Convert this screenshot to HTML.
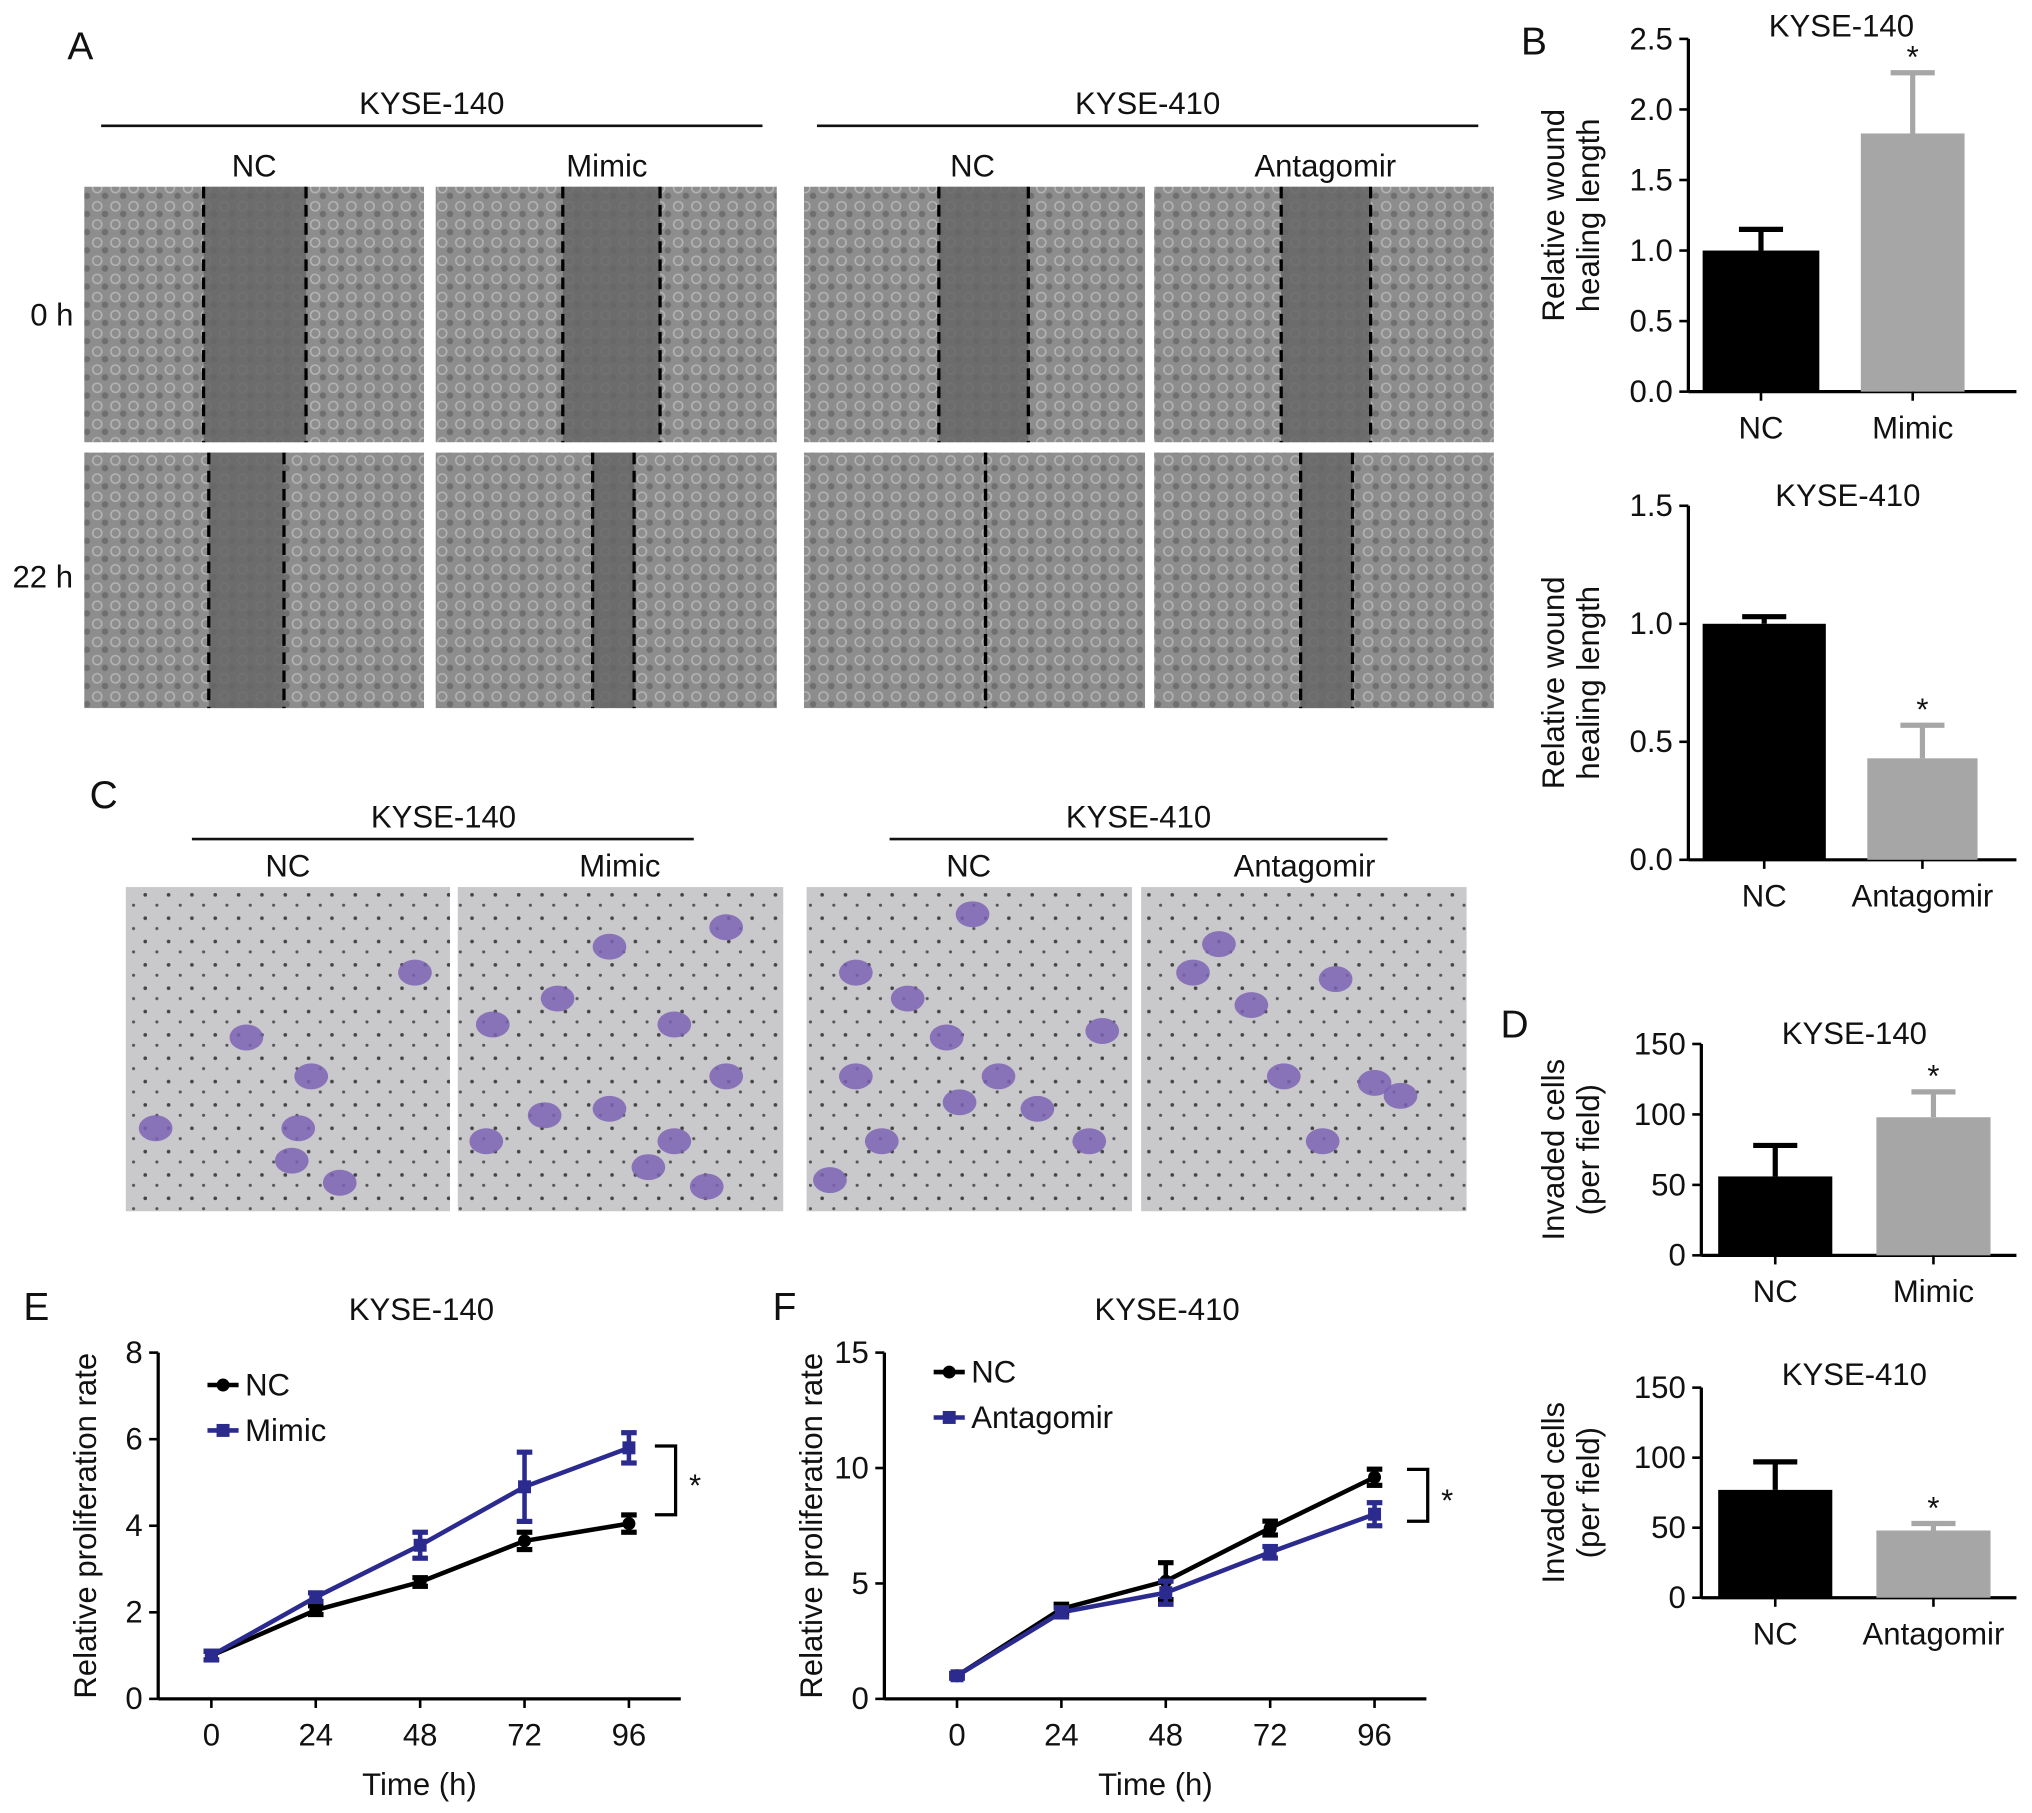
<!DOCTYPE html>
<html><head><meta charset="utf-8"><style>
html,body{margin:0;padding:0;background:#fff}
svg{display:block}
text{font-family:"Liberation Sans",Arial,sans-serif;fill:#111}
</style></head><body>
<svg id="fig" width="2032" height="1813" viewBox="0 0 1567 1398" preserveAspectRatio="none" xmlns="http://www.w3.org/2000/svg">
<defs>
<pattern id="cells" width="14" height="14" patternUnits="userSpaceOnUse">
<rect width="14" height="14" fill="#8d8d8d"/><circle cx="5" cy="5" r="3.5" fill="none" stroke="#b4b4b4" stroke-width="1.2"/><circle cx="11" cy="11" r="2.5" fill="#6f6f6f"/>
</pattern>
<pattern id="memb" width="18" height="18" patternUnits="userSpaceOnUse">
<rect width="18" height="18" fill="#c9c9cc"/><circle cx="4" cy="6" r="1.4" fill="#444"/><circle cx="13" cy="14" r="1.2" fill="#555"/>
</pattern>
</defs>
<g id="panelA"></g>
<g id="panelC"></g>
<g id="charts"></g>
</svg>
<script>
// ---- data ----
const bCats1=["NC","Mimic"]; const bVals1=[1.0,1.83]; const bErr1=[0.15,0.43];
const bCats2=["NC","Antagomir"]; const bVals2=[1.0,0.43]; const bErr2=[0.03,0.14];
const dCats1=["NC","Mimic"]; const dVals1=[56,98]; const dErr1=[22,18];
const dCats2=["NC","Antagomir"]; const dVals2=[77,48]; const dErr2=[20,5];
const timePoints=[0,24,48,72,96];
const eNC=[1,2.05,2.7,3.65,4.05]; const eNCerr=[0.1,0.1,0.1,0.2,0.2];
const eMimic=[1,2.35,3.55,4.9,5.8]; const eMimicErr=[0.1,0.1,0.3,0.8,0.35];
const fNC=[1,3.9,5.1,7.4,9.6]; const fNCerr=[0.1,0.2,0.8,0.3,0.35];
const fAnta=[1,3.75,4.6,6.35,8.0]; const fAntaErr=[0.1,0.2,0.5,0.25,0.5];
const bTicks=[0,0.5,1.0,1.5,2.0,2.5]; const b2Ticks=[0,0.5,1.0,1.5];
const dTicks=[0,50,100,150]; const eTicks=[0,2,4,6,8]; const fTicks=[0,5,10,15];

const FS=24;
const NS="http://www.w3.org/2000/svg";
function el(parent,tag,attrs,txt){const e=document.createElementNS(NS,tag);for(const k in attrs)e.setAttribute(k,attrs[k]);if(txt!==undefined)e.textContent=txt;parent.appendChild(e);return e;}
function txt(p,x,y,s,size,anchor,name){const t=el(p,"text",{x:x,y:y,"font-size":size||FS,"text-anchor":anchor||"middle"},s);


return t;}
const A=document.getElementById("panelA"),C=document.getElementById("panelC"),G=document.getElementById("charts");

// ---- Panel A ----
txt(A,62,46,"A",30,"middle","panel-letter-a");
[[333,78,588,"KYSE-140"],[885,630,1140,"KYSE-410"]].forEach(g=>{txt(A,g[0],88,g[3],FS,"middle","group-title");el(A,"line",{x1:g[1],x2:g[2],y1:97,y2:97,stroke:"#111","stroke-width":2});});
[[196,"NC"],[468,"Mimic"],[750,"NC"],[1022,"Antagomir"]].forEach(c=>txt(A,c[0],136,c[1],FS,"middle","column-label"));
txt(A,40,251,"0 h",FS,"middle","row-label-0h");txt(A,33,453,"22 h",FS,"middle","row-label-22h");
const colsA=[[65,327],[336,599],[620,883],[890,1152]];
const dashes=[[[157,236],[434,509],[724,793],[988,1057]],[[161,219],[457,489],[760,760],[1003,1043]]];
[[144,341],[349,546]].forEach((r,ri)=>colsA.forEach((c,ci)=>{
 el(A,"rect",{x:c[0],y:r[0],width:c[1]-c[0],height:r[1]-r[0],fill:"url(#cells)"});
 const d=dashes[ri][ci];
 el(A,"rect",{x:d[0],y:r[0],width:Math.max(d[1]-d[0],1),height:r[1]-r[0],fill:"#666",opacity:0.85});
 d.forEach(x=>el(A,"line",{x1:x,x2:x,y1:r[0],y2:r[1],stroke:"#000","stroke-width":2.5,"stroke-dasharray":"9,5"}));
}));

// ---- Panel C ----
txt(C,80,623,"C",30,"middle","panel-letter-c");
[[342,148,535,"KYSE-140"],[878,686,1070,"KYSE-410"]].forEach(g=>{txt(C,g[0],638,g[3],FS,"middle","group-title");el(C,"line",{x1:g[1],x2:g[2],y1:647,y2:647,stroke:"#111","stroke-width":2});});
[[222,"NC"],[478,"Mimic"],[747,"NC"],[1006,"Antagomir"]].forEach(c=>txt(C,c[0],676,c[1],FS,"middle","column-label"));
const colsC=[[97,347],[353,604],[622,873],[880,1131]];
const blobs=[[[320,750],[190,800],[240,830],[230,870],[262,912],[120,870],[225,895]],
[[560,715],[470,730],[430,770],[520,790],[380,790],[420,860],[470,855],[520,880],[560,830],[500,900],[545,915],[375,880]],
[[750,705],[660,750],[700,770],[730,800],[770,830],[660,830],[740,850],[840,880],[680,880],[640,910],[800,855],[850,795]],
[[940,728],[920,750],[965,775],[1030,755],[1060,835],[990,830],[1020,880],[1080,845]]];
colsC.forEach((c,i)=>{el(C,"rect",{x:c[0],y:684,width:c[1]-c[0],height:250,fill:"url(#memb)"});
 blobs[i].forEach(b=>el(C,"ellipse",{cx:b[0],cy:b[1],rx:13,ry:10,fill:"#7d63b4",opacity:0.85}));});

// ---- bar charts ----
function barChart(o){
 const y=v=>o.y0-(v-o.min)/(o.max-o.min)*(o.y0-o.yTop);
 const g=el(G,"g",{});
 
 
 txt(g,o.titleX,o.titleY,o.title,FS,"middle","chart-title");
 el(g,"line",{x1:o.ax,x2:o.ax,y1:o.yTop,y2:o.y0,stroke:"#000","stroke-width":2.5});
 el(g,"line",{x1:o.ax,x2:o.xEnd,y1:o.y0,y2:o.y0,stroke:"#000","stroke-width":2.5});
 o.ticks.forEach(t=>{el(g,"line",{x1:o.ax-7,x2:o.ax,y1:y(t),y2:y(t),stroke:"#000","stroke-width":2});txt(g,o.ax-12,y(t)+8,o.fmt(t),FS,"end","y-tick-label");});
 const yl=el(g,"text",{transform:`translate(${o.ylx},${(o.yTop+o.y0)/2}) rotate(-90)`,"font-size":FS,"text-anchor":"middle"});
 
 
 o.ylab.forEach((s,i)=>el(yl,"tspan",{x:0,dy:i?27:0},s));
 o.cats.forEach((c,i)=>{const bx=o.bars[i];const yt=y(o.vals[i]),ye=y(o.vals[i]+o.errs[i]);const cx=(bx[0]+bx[1])/2;
  el(g,"line",{x1:cx,x2:cx,y1:ye,y2:yt,stroke:i?"#a6a6a6":"#000","stroke-width":4});
  el(g,"line",{x1:cx-17,x2:cx+17,y1:ye,y2:ye,stroke:i?"#a6a6a6":"#000","stroke-width":4});
  const r=el(g,"rect",{x:bx[0],y:yt,width:bx[1]-bx[0],height:o.y0-yt,fill:i?"#a6a6a6":"#000"});
  
  
  el(g,"line",{x1:cx,x2:cx,y1:o.y0,y2:o.y0+7,stroke:"#000","stroke-width":2});
  txt(g,cx,o.y0+36,c,FS,"middle","x-tick-label");
  if(i) txt(g,cx,ye-4,"*",FS,"middle","significance-star");});
}
txt(G,1183,42,"B",30,"middle","panel-letter-b");
barChart({name:"chart-b-kyse140",title:"KYSE-140",titleX:1420,titleY:28,ax:1302,xEnd:1555,y0:302,yTop:30,min:0,max:2.5,ticks:bTicks,fmt:t=>t.toFixed(1),cats:bCats1,vals:bVals1,errs:bErr1,bars:[[1313,1403],[1435,1515]],ylx:1206,ylab:["Relative wound","healing length"]});
barChart({name:"chart-b-kyse410",title:"KYSE-410",titleX:1425,titleY:390,ax:1302,xEnd:1555,y0:663,yTop:390,min:0,max:1.5,ticks:b2Ticks,fmt:t=>t.toFixed(1),cats:bCats2,vals:bVals2,errs:bErr2,bars:[[1313,1408],[1440,1525]],ylx:1206,ylab:["Relative wound","healing length"]});
txt(G,1168,800,"D",30,"middle","panel-letter-d");
barChart({name:"chart-d-kyse140",title:"KYSE-140",titleX:1430,titleY:805,ax:1312,xEnd:1555,y0:968,yTop:805,min:0,max:150,ticks:dTicks,fmt:t=>String(t),cats:dCats1,vals:dVals1,errs:dErr1,bars:[[1325,1413],[1447,1535]],ylx:1206,ylab:["Invaded cells","(per field)"]});
barChart({name:"chart-d-kyse410",title:"KYSE-410",titleX:1430,titleY:1068,ax:1312,xEnd:1555,y0:1232,yTop:1070,min:0,max:150,ticks:dTicks,fmt:t=>String(t),cats:dCats2,vals:dVals2,errs:dErr2,bars:[[1325,1413],[1447,1535]],ylx:1206,ylab:["Invaded cells","(per field)"]});

// ---- line charts ----
function lineChart(o){
 const y=v=>o.y0-v/o.max*(o.y0-o.yTop);
 const x=t=>o.x0+t/96*(o.x96-o.x0);
 const g=el(G,"g",{});
 
 
 txt(g,o.letterX,1018,o.letter,30,"middle","panel-letter");
 txt(g,o.titleX,1018,o.title,FS,"middle","chart-title");
 el(g,"line",{x1:o.ax,x2:o.ax,y1:o.yTop,y2:o.y0,stroke:"#000","stroke-width":2.5});
 el(g,"line",{x1:o.ax,x2:o.xEnd,y1:o.y0,y2:o.y0,stroke:"#000","stroke-width":2.5});
 o.ticks.forEach(t=>{el(g,"line",{x1:o.ax-7,x2:o.ax,y1:y(t),y2:y(t),stroke:"#000","stroke-width":2});txt(g,o.ax-12,y(t)+8,String(t),FS,"end","y-tick-label");});
 timePoints.forEach(t=>{el(g,"line",{x1:x(t),x2:x(t),y1:o.y0,y2:o.y0+7,stroke:"#000","stroke-width":2});txt(g,x(t),o.y0+36,String(t),FS,"middle","x-tick-label");});
 txt(g,(o.ax+o.xEnd)/2,1384,"Time (h)",FS,"middle","x-axis-title");
 const yl=txt(g,0,0,"Relative proliferation rate",FS,"middle","y-axis-title");
 yl.setAttribute("transform",`translate(${o.ylx},${(o.yTop+o.y0)/2}) rotate(-90)`);
 o.series.forEach((s,si)=>{
  const pts=s.vals.map((v,i)=>x(timePoints[i])+","+y(v)).join(" ");
  const pl=el(g,"polyline",{points:pts,fill:"none",stroke:s.color,"stroke-width":3.5});
  
  
  s.vals.forEach((v,i)=>{const px=x(timePoints[i]);const e=s.errs[i];
   el(g,"line",{x1:px,x2:px,y1:y(v+e),y2:y(v-e),stroke:s.color,"stroke-width":3.5});
   [v+e,v-e].forEach(w=>el(g,"line",{x1:px-6,x2:px+6,y1:y(w),y2:y(w),stroke:s.color,"stroke-width":4}));
   if(si===0) el(g,"circle",{cx:px,cy:y(v),r:5,fill:s.color});
   else el(g,"rect",{x:px-5,y:y(v)-5,width:10,height:10,fill:s.color});});
  const ly=o.legY+si*35;
  const lg=el(g,"g",{});
  
  
  el(lg,"line",{x1:o.legX,x2:o.legX+24,y1:ly,y2:ly,stroke:s.color,"stroke-width":3.5});
  if(si===0) el(lg,"circle",{cx:o.legX+12,cy:ly,r:5,fill:s.color}); else el(lg,"rect",{x:o.legX+7,y:ly-5,width:10,height:10,fill:s.color});
  txt(lg,o.legX+29,ly+8,s.label,FS,"start","legend-label");
 });
 const b=o.bracket;
 el(g,"polyline",{points:`${b[0]},${b[1]} ${b[0]+16},${b[1]} ${b[0]+16},${b[2]} ${b[0]},${b[2]}`,fill:"none",stroke:"#000","stroke-width":2.5});
 txt(g,b[0]+31,(b[1]+b[2])/2+12,"*",FS,"middle","significance-star");
}
lineChart({name:"chart-e-kyse140",letter:"E",letterX:28,title:"KYSE-140",titleX:325,ax:122,xEnd:525,x0:163,x96:485,y0:1310,yTop:1043,max:8,ticks:eTicks,ylx:74,legX:160,legY:1068,bracket:[505,1115,1168],
 series:[{label:"NC",vals:eNC,errs:eNCerr,color:"#000"},{label:"Mimic",vals:eMimic,errs:eMimicErr,color:"#2b2a8f"}]});
lineChart({name:"chart-f-kyse410",letter:"F",letterX:605,title:"KYSE-410",titleX:900,ax:682,xEnd:1100,x0:738,x96:1060,y0:1310,yTop:1043,max:15,ticks:fTicks,ylx:634,legX:720,legY:1058,bracket:[1085,1133,1173],
 series:[{label:"NC",vals:fNC,errs:fNCerr,color:"#000"},{label:"Antagomir",vals:fAnta,errs:fAntaErr,color:"#2b2a8f"}]});
</script>
</body></html>
